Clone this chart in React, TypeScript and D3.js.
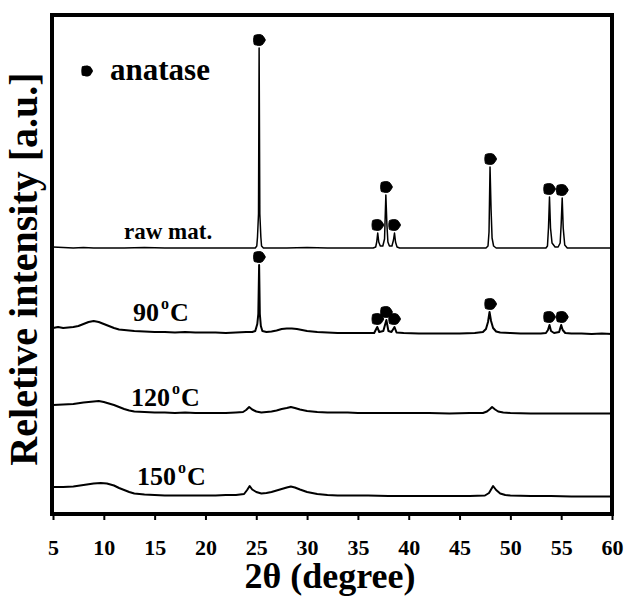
import React, { useEffect, useRef } from 'react'
import * as d3 from 'd3'

type Pt = [number, number]

// 2-theta tick labels
const xTicks = [5, 10, 15, 20, 25, 30, 35, 40, 45, 50, 55, 60]

// curve labels (top to bottom)
const sampleLabels = ['raw mat.', '90', '120', '150']

// anatase reflections marked with the symbol
const anatasePeaks = [25.3, 36.95, 37.8, 38.6, 48.05, 53.85, 55.1]

// intensities (a.u., offset already included)
const rawMat: Pt[] = [
  [5, 267], [6, 266.5], [7, 266], [8, 266.5], [9, 266], [10, 266], [12, 266], [14, 266.5],
  [16, 266], [18, 266], [20, 266], [22, 266], [24, 266], [24.9, 266], [25.05, 268],
  [25.12, 277], [25.22, 300], [25.28, 466], [25.35, 300], [25.45, 277], [25.52, 268],
  [25.7, 266], [28, 266], [30, 266.5], [32, 266], [34, 266], [36.5, 266], [36.75, 267],
  [36.85, 272], [36.95, 281], [37.05, 272], [37.2, 268], [37.45, 268], [37.62, 275],
  [37.75, 319], [37.85, 290], [37.95, 272], [38.1, 268], [38.35, 268], [38.5, 274],
  [38.6, 281], [38.7, 272], [38.85, 267], [39.1, 266], [42, 266], [45, 266], [47.6, 266],
  [47.8, 268], [47.9, 282], [48.0, 347], [48.1, 305], [48.2, 276], [48.35, 268],
  [48.6, 266], [51, 266], [53.5, 266], [53.65, 268], [53.75, 286], [53.85, 317],
  [53.95, 286], [54.1, 271], [54.4, 267], [54.7, 267], [54.9, 271], [55.0, 290],
  [55.1, 316], [55.2, 286], [55.35, 269], [55.6, 266], [58, 266], [60, 266]
]

const t90: Pt[] = [
  [5, 186], [5.5, 187], [6, 186], [6.5, 186.5], [7, 187], [7.5, 188], [8, 190], [8.5, 192],
  [9, 193], [9.5, 192], [10, 190], [10.5, 188], [11, 186], [11.5, 184.5], [12, 184],
  [13, 183], [14, 182.5], [15, 182], [16, 182], [17, 181.5], [18, 182], [19, 181.5],
  [20, 181.5], [21, 181.5], [22, 181], [23, 181.5], [24, 182], [24.6, 182], [24.9, 183],
  [25.1, 190], [25.2, 200], [25.28, 249], [25.35, 200], [25.45, 188], [25.6, 183],
  [26, 182], [26.5, 182.5], [27, 183.5], [27.5, 185], [28, 185.5], [28.5, 185.5],
  [29, 185], [29.5, 184], [30, 183], [31, 182], [32, 181.5], [33, 181], [34, 181],
  [35, 181], [36, 181], [36.6, 181], [36.9, 187], [37.1, 182], [37.5, 183], [37.8, 194],
  [38.0, 183], [38.3, 182], [38.6, 187], [38.8, 181.5], [39.5, 181], [41, 180.5],
  [43, 180.5], [45, 180.5], [46.5, 181], [47.3, 182], [47.6, 185], [47.8, 192],
  [47.95, 202], [48.1, 193], [48.3, 186], [48.6, 182.5], [49, 181.5], [50, 181],
  [51, 180.5], [52, 180.5], [53, 180.5], [53.5, 181], [53.7, 184], [53.85, 189],
  [54.0, 183], [54.3, 181], [54.8, 182], [55.0, 189], [55.15, 184], [55.4, 181],
  [56, 180.5], [57, 180.5], [58, 180], [59, 180.5], [60, 180]
]

const t120: Pt[] = [
  [5, 109], [6, 109.5], [7, 110], [8, 111.5], [8.5, 112], [9, 112.5], [9.5, 113],
  [10, 112], [10.5, 110.5], [11, 109], [11.5, 107], [12, 105], [12.5, 103.5], [13, 102.5],
  [14, 102], [15, 101.5], [16, 101.5], [17, 101], [18, 101.5], [19, 101], [20, 101],
  [21, 101], [22, 101], [23, 101.5], [23.7, 102], [24.0, 104], [24.3, 107], [24.6, 104.5],
  [25, 102.5], [25.5, 101.5], [26, 102], [26.5, 102.5], [27, 103.5], [27.5, 105],
  [28, 106], [28.4, 107], [28.8, 106], [29.3, 104.5], [30, 103], [31, 102], [32, 101.5],
  [33, 101.5], [34, 101.5], [35, 101], [36, 101], [38, 101], [40, 101], [42, 101],
  [44, 100.5], [46, 101], [47.3, 101], [47.7, 102.5], [48.0, 105], [48.2, 107],
  [48.5, 104.5], [48.8, 102.5], [49.3, 101.5], [50, 101], [52, 100.5], [54, 100.5],
  [56, 100.5], [58, 100.5], [60, 100.5]
]

const t150: Pt[] = [
  [5, 27], [6, 27], [7, 27.5], [8, 29], [9, 30.5], [9.7, 31], [10.3, 30.5], [11, 28.5],
  [11.5, 26], [12, 24], [12.5, 22], [13, 20.5], [14, 19.5], [15, 19], [16, 18.5],
  [17, 18.5], [18, 18.5], [19, 18.5], [20, 18.5], [21, 18.5], [22, 19], [23, 19],
  [23.8, 20], [24.1, 24], [24.35, 28], [24.6, 24.5], [25, 22], [25.5, 20.5], [26, 21],
  [26.5, 22], [27, 23.5], [27.5, 25], [28, 26.5], [28.4, 27.5], [28.8, 26.5], [29.3, 24.5],
  [30, 22], [31, 20], [32, 19], [33, 18.5], [34, 18.5], [36, 18.5], [38, 18], [40, 18],
  [42, 18], [44, 18], [46, 18], [47.5, 18.5], [47.9, 21], [48.3, 28], [48.6, 24],
  [49, 20.5], [49.5, 19], [50, 18.5], [52, 18], [54, 18], [56, 17.5], [58, 17.5], [60, 17.5]
]

const FONT = "'Liberation Serif', 'Times New Roman', serif"

const App = () => {
  const svgRef = useRef<SVGSVGElement>(null)

  useEffect(() => {
    const width = 627
    const height = 596
    const frame = { left: 52, top: 15, right: 612, bottom: 514 }

    const svg = d3.select(svgRef.current).attr('width', width).attr('height', height)
    svg.selectAll('*').remove()

    const x = d3.scaleLinear().domain([5, 60]).range([frame.left + 1, frame.right])
    const y = d3.scaleLinear().domain([0, 500]).range([frame.bottom, frame.bottom - 500])

    const line = d3
      .line<Pt>()
      .x((d) => x(d[0]))
      .y((d) => y(d[1]))

    // curves
    const curves = [rawMat, t90, t120, t150]
    svg
      .selectAll('.curve')
      .data(curves)
      .enter()
      .append('path')
      .attr('class', 'curve')
      .attr('d', (d) => line(d))
      .attr('fill', 'none')
      .attr('stroke', '#000')
      .attr('stroke-width', (d, i) => (i === 0 ? 1.5 : 2))
      .attr('stroke-linejoin', 'round')

    // anatase marker: rounded blob with a small point to the right
    const marker = d3.line().curve(d3.curveCardinalClosed.tension(0.6))([
      [-5, -4.5], [0, -5.5], [3.3, -4.4], [6, 0], [3.3, 4.4], [0, 5.5], [-5, 4.5], [-5.7, 0]
    ] as [number, number][])

    const peakTop = (series: Pt[], p: number) =>
      d3.max(series.filter((d) => Math.abs(d[0] - p) <= 0.3), (d) => d[1]) || 0

    ;[rawMat, t90].forEach((series) => {
      svg
        .append('g')
        .selectAll('path')
        .data(anatasePeaks)
        .enter()
        .append('path')
        .attr('d', marker)
        .attr('transform', (p) => `translate(${x(p)},${y(peakTop(series, p)) - 8})`)
        .attr('fill', '#000')
        .attr('stroke', '#000')
        .attr('stroke-width', 1)
        .attr('stroke-linejoin', 'round')
    })

    // frame
    svg
      .append('rect')
      .attr('x', frame.left)
      .attr('y', frame.top)
      .attr('width', frame.right - frame.left)
      .attr('height', frame.bottom - frame.top)
      .attr('fill', 'none')
      .attr('stroke', '#000')
      .attr('stroke-width', 4)

    // x axis
    const axis = svg
      .append('g')
      .attr('transform', `translate(0, ${frame.bottom + 2})`)
      .call(d3.axisBottom(x).tickValues(xTicks).tickSize(4).tickPadding(19).tickFormat(d3.format('d')))
    axis.select('.domain').remove()
    axis.selectAll('line').attr('stroke-width', 2)
    axis
      .selectAll('text')
      .style('font-family', FONT)
      .style('font-weight', 'bold')
      .style('font-size', '22px')
      .attr('fill', '#000')

    // axis titles
    svg
      .append('text')
      .text('2\u03b8 (degree)')
      .attr('x', 330)
      .attr('y', 588)
      .attr('text-anchor', 'middle')
      .style('font-family', FONT)
      .style('font-weight', 'bold')
      .style('font-size', '36px')

    svg
      .append('text')
      .text('Reletive intensity [a.u.]')
      .attr('transform', 'translate(37, 269) rotate(-90)')
      .attr('text-anchor', 'middle')
      .style('font-family', FONT)
      .style('font-weight', 'bold')
      .style('font-size', '40px')

    // legend
    svg.append('path').attr('d', marker).attr('transform', 'translate(87, 71)').attr('fill', '#000')
    svg
      .append('text')
      .text('anatase')
      .attr('x', 110)
      .attr('y', 80)
      .style('font-family', FONT)
      .style('font-weight', 'bold')
      .style('font-size', '31px')

    // sample labels
    const labelPos = [
      [124, 239],
      [133, 321],
      [131, 406],
      [137, 485]
    ]
    sampleLabels.forEach((lab, i) => {
      const t = svg
        .append('text')
        .attr('x', labelPos[i][0])
        .attr('y', labelPos[i][1])
        .style('font-family', FONT)
        .style('font-weight', 'bold')
        .style('font-size', i === 0 ? '23px' : '26px')
      if (i === 0) {
        t.text(lab)
      } else {
        t.append('tspan').text(lab)
        t.append('tspan').text('o').attr('dy', -12).attr('dx', 2).style('font-size', '16px')
        t.append('tspan').text('C').attr('dy', 12).attr('dx', 1)
      }
    })
  }, [])

  return <svg ref={svgRef} style={{ position: 'absolute', left: 0, top: 0, background: '#fff' }}></svg>
}

export default App
